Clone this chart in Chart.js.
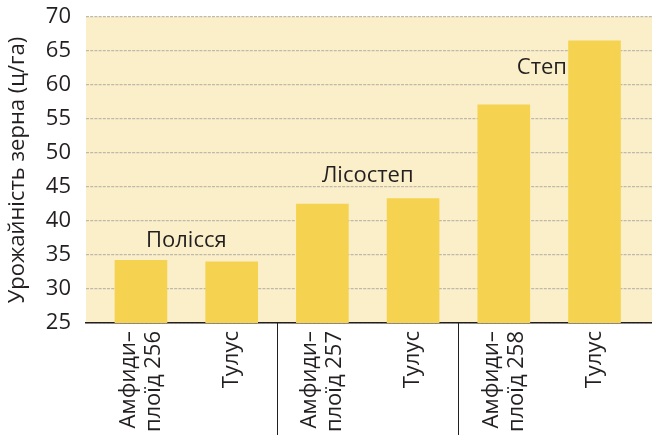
<!DOCTYPE html>
<html>
<head>
<meta charset="utf-8">
<script src="https://cdn.jsdelivr.net/npm/chart.js@4.4.1/dist/chart.umd.min.js"></script>
<style>
  html, body { margin: 0; padding: 0; background: #fff; }
  #wrap { width: 652px; height: 435px; }
</style>
</head>
<body>
<div id="wrap"><canvas id="yieldChart"></canvas></div>
<script>
// Урожайність зерна по зонах
const categories = [
    ['Амфиди–', 'плоїд 256'], ['Тулус'],
    ['Амфиди–', 'плоїд 257'], ['Тулус'],
    ['Амфиди–', 'плоїд 258'], ['Тулус']
];
const yieldValues = [34.2, 34.0, 42.5, 43.3, 57.1, 66.5];
const zones = ['Полісся', 'Лісостеп', 'Степ'];
const yTitle = 'Урожайність зерна (ц/га)';
const yMin = 25, yMax = 70, yStep = 5;

const textColor = '#231f20';
const fontFamily = "'Open Sans', 'Noto Sans', sans-serif";

// фон області графіка
const plotBackground = {
    id: 'plotBackground',
    beforeDraw(chart) {
        const { ctx, chartArea: a } = chart;
        ctx.save();
        ctx.fillStyle = '#fbefc9';
        ctx.fillRect(a.left, a.top, a.right - a.left, a.bottom - a.top);
        ctx.restore();
    }
};

// назви зон, підписи категорій (вертикальні, по центру), заголовок осі Y і роздільники
const zoneMarks = {
    id: 'zoneMarks',
    afterDraw(chart, args, opts) {
        const { ctx, chartArea: a, scales: { x, y } } = chart;
        ctx.save();
        ctx.fillStyle = textColor;
        ctx.font = '22px ' + fontFamily;
        ctx.textAlign = 'center';
        ctx.textBaseline = 'middle';
        opts.labels.forEach((l, i) => {
            ctx.fillText(zones[i], x.getPixelForValue(l.at), y.getPixelForValue(l.level));
        });

        // підписи під віссю X
        categories.forEach((lines, i) => {
            ctx.save();
            ctx.translate(x.getPixelForValue(i), a.bottom + opts.tickPad);
            ctx.rotate(-Math.PI / 2);
            ctx.textAlign = 'right';
            lines.forEach((line, j) => {
                ctx.fillText(line, 0, (j - (lines.length - 1) / 2) * opts.lineGap);
            });
            ctx.restore();
        });

        // заголовок осі Y
        ctx.save();
        ctx.translate(opts.titleX, (a.top + a.bottom) / 2);
        ctx.rotate(-Math.PI / 2);
        ctx.textAlign = 'center';
        ctx.fillText(yTitle, 0, 0);
        ctx.restore();

        ctx.strokeStyle = textColor;
        ctx.lineWidth = 1;
        opts.dividers.forEach(d => {
            const px = Math.round(x.getPixelForValue(d)) + 0.5;
            ctx.beginPath();
            ctx.moveTo(px, a.bottom);
            ctx.lineTo(px, chart.height);
            ctx.stroke();
        });
        ctx.restore();
    }
};

const ctx = document.getElementById('yieldChart').getContext('2d');
new Chart(ctx, {
    type: 'bar',
    data: {
        datasets: [{
            data: yieldValues.map((v, i) => ({ x: i, y: v })),
            backgroundColor: '#f5d350',
            borderWidth: 0,
            barThickness: 52
        }]
    },
    options: {
        responsive: true,
        maintainAspectRatio: false,
        animation: false,
        layout: { padding: { top: 17, right: 0, left: 0, bottom: 0 } },
        plugins: {
            legend: { display: false },
            tooltip: { enabled: false },
            zoneMarks: {
                labels: [
                    { at: 0.5, level: 37.1 },
                    { at: 2.5, level: 46.7 },
                    { at: 4.42, level: 62.6 }
                ],
                dividers: [1.5, 3.5],
                tickPad: 8,
                lineGap: 25,
                titleX: 18
            }
        },
        scales: {
            x: {
                type: 'linear',
                offset: false,
                min: -0.606,
                max: 5.634,
                grid: { display: false },
                border: { display: true, color: textColor, width: 1.5 },
                afterBuildTicks: (axis) => {
                    axis.ticks = categories.map((c, i) => ({ value: i }));
                },
                afterFit: (axis) => {
                    axis.height = 112;
                    axis.paddingLeft = 0;
                    axis.paddingRight = 0;
                },
                ticks: { display: false }
            },
            y: {
                min: yMin,
                max: yMax,
                grid: {
                    color: '#bfb9ac',
                    lineWidth: 1.3,
                    drawTicks: false
                },
                border: { display: false, dash: [3, 1.2] },
                afterFit: (axis) => {
                    axis.width = 86;
                    axis.paddingTop = 0;
                    axis.paddingBottom = 0;
                },
                ticks: {
                    stepSize: yStep,
                    padding: 15,
                    color: textColor,
                    font: { family: fontFamily, size: 22 }
                }
            }
        }
    },
    plugins: [plotBackground, zoneMarks]
});
</script>
</body>
</html>
